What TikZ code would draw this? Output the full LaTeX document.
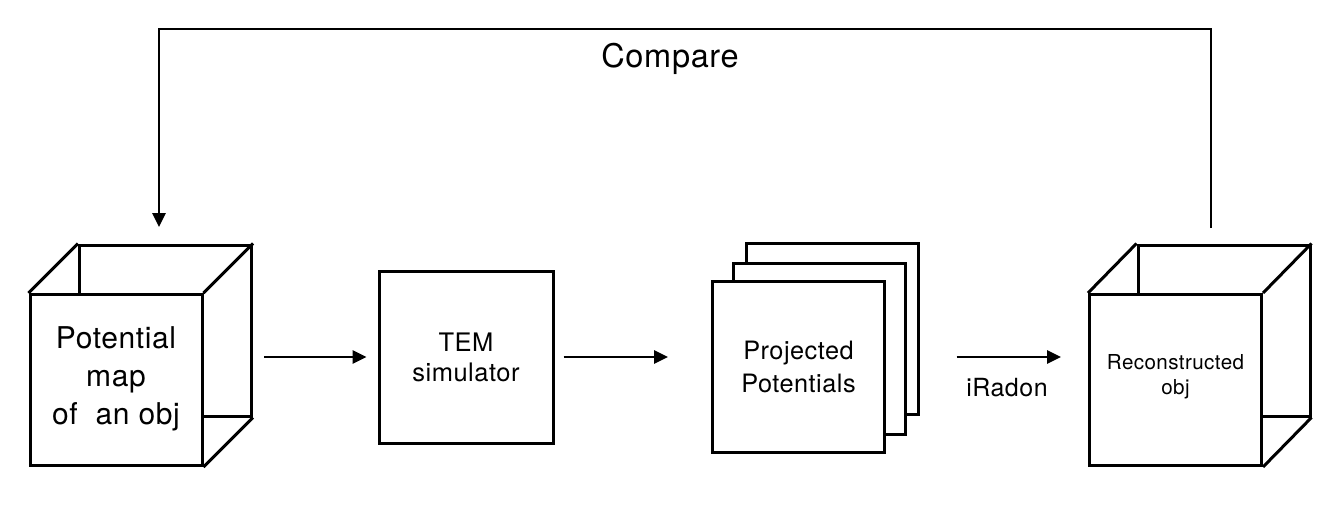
\documentclass[tikz,border=0pt]{standalone}
\usepackage{fontspec}
\setmainfont{TeX Gyre Heros}[LetterSpace=2]
\usepackage{tikz}
\usetikzlibrary{arrows.meta,positioning,calc}

\begin{document}
\begin{tikzpicture}[x=1pt,y=-1pt,>={Triangle[length=14pt,width=13pt]},
                    line width=3pt]
  \tikzstyle{face}=[draw,fill=white,inner sep=0pt,minimum width=172pt,minimum height=171pt]
  \tikzstyle{flow}=[->,line width=2.6pt]
  \tikzstyle{txt}=[align=center,inner sep=0pt]

  \useasboundingbox (0,0) rectangle (1344,506);

  % potential map cube
  \node[face]   (lback)  at (165.5,330.5) {};
  \node[face]   (lfront) at (116,380)     {};
  \draw (lfront.north west) -- (lback.north west)
        (lfront.north east) -- (lback.north east)
        (lfront.south east) -- (lback.south east);
  \node[txt,font=\fontsize{30}{38}\selectfont] (ltext) at ([yshift=1pt]lfront.center)
        {Potential\\map\\of\ \ an obj};

  % simulator
  \node[face,minimum width=174pt,minimum height=172pt,txt,font=\fontsize{25.5}{30}\selectfont]
        (tem) at (466,357) {TEM\\simulator};

  % projections
  \node[face]   (pback)  at (832,328.5)   {};
  \node[face]   (pmid)   at (819,348.5)   {};
  \node[face,txt,font=\fontsize{25.3}{33}\selectfont]
        (pfront) at (798.5,367) {Projected\\Potentials};

  % reconstructed cube
  \node[face]   (rback)  at (1224,330.5)  {};
  \node[face]   (rfront) at (1175.5,380)  {};
  \draw (rfront.north west) -- (rback.north west)
        (rfront.north east) -- (rback.north east)
        (rfront.south east) -- (rback.south east);
  \node[txt,font=\fontsize{20.6}{25}\selectfont] (rtext) at ([yshift=3pt]rfront.center)
        {Reconstructed\\obj};

  % arrows
  \draw[flow,shorten <=11pt,shorten >=11pt] (lback.east |- tem.west) -- (tem.west);
  \draw[flow,shorten <=9pt,shorten >=43pt] (tem.east) -- (tem.east -| pfront.west);
  \draw[flow,shorten <=37pt,shorten >=27pt] (pback.east |- tem.east) -- (rfront.west |- tem.east);
  \node[txt,font=\fontsize{25}{28}\selectfont] (iradon) at (1007,388) {iRadon};

  % feedback
  \coordinate (rtop) at (1211,228);
  \coordinate (ltop) at (159,227);
  \draw[flow] (rtop) -- ++(0,-199) -| (ltop);
  \node[txt,font=\fontsize{32.5}{33}\selectfont] (compare) at (670,59) {Compare};
\end{tikzpicture}
\end{document}
